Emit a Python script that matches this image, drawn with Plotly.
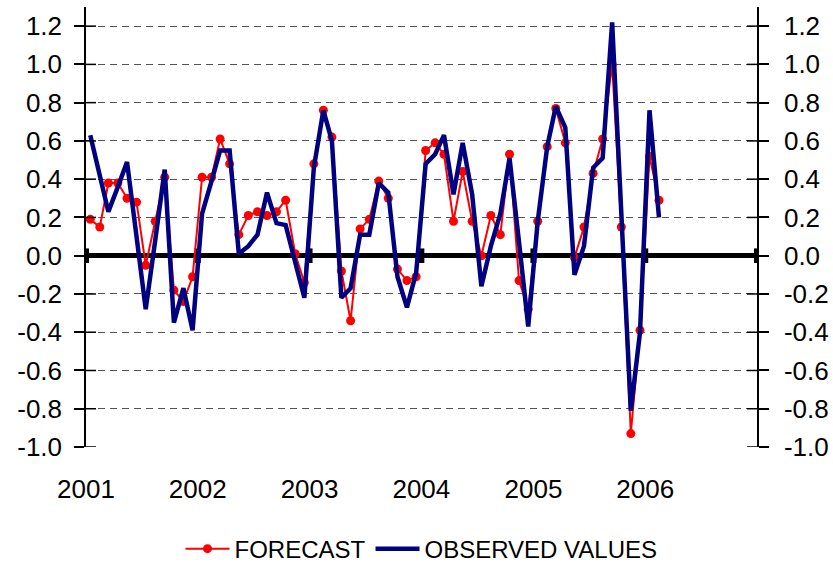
import pandas as pd
import plotly.graph_objects as go

# monthly observations, Jan 2001 - Feb 2006
months = pd.date_range("2001-01-01", periods=62, freq="MS") + pd.Timedelta(days=14)

forecast = [0.19, 0.15, 0.38, 0.38, 0.30, 0.28, -0.05, 0.18, 0.41, -0.18, -0.24, -0.11,
            0.41, 0.41, 0.61, 0.48, 0.11, 0.21, 0.23, 0.21, 0.23, 0.29, 0.01, -0.14,
            0.48, 0.76, 0.62, -0.08, -0.34, 0.14, 0.19, 0.39, 0.30, -0.07, -0.13, -0.11,
            0.55, 0.59, 0.53, 0.18, 0.44, 0.18, 0.00, 0.21, 0.11, 0.53, -0.13, -0.28,
            0.18, 0.57, 0.77, 0.59, -0.01, 0.15, 0.43, 0.61, 1.00, 0.15, -0.93, -0.39,
            0.52, 0.29]

observed = [0.63, 0.43, 0.23, 0.36, 0.49, 0.10, -0.28, 0.08, 0.45, -0.35, -0.17, -0.39,
            0.22, 0.39, 0.55, 0.55, 0.01, 0.05, 0.11, 0.33, 0.17, 0.16, -0.03, -0.22,
            0.46, 0.76, 0.60, -0.22, -0.17, 0.11, 0.11, 0.38, 0.33, -0.11, -0.27, -0.09,
            0.48, 0.53, 0.63, 0.32, 0.59, 0.32, -0.16, 0.05, 0.22, 0.51, 0.07, -0.37,
            0.18, 0.57, 0.78, 0.67, -0.10, 0.05, 0.46, 0.51, 1.22, 0.17, -0.81, -0.40,
            0.76, 0.20]

years = [2001, 2002, 2003, 2004, 2005, 2006]
year_edges = [2001, 2002, 2003, 2004, 2005, 2006, 2007]
y_ticks = [-1.0, -0.8, -0.6, -0.4, -0.2, 0.0, 0.2, 0.4, 0.6, 0.8, 1.0, 1.2]
y_labels = ["-1.0", "-0.8", "-0.6", "-0.4", "-0.2", "0.0", "0.2", "0.4", "0.6", "0.8", "1.0", "1.2"]

FONT = "Liberation Sans, Arial, sans-serif"
YR = [-1.0, 1.3]

fig = go.Figure()
fig.add_trace(go.Scatter(x=months, y=forecast, name="FORECAST", mode="lines+markers",
                         line=dict(color="#FF0000", width=2),
                         marker=dict(color="#FF0000", size=9, symbol="circle")))
fig.add_trace(go.Scatter(x=months, y=observed, name="OBSERVED VALUES", mode="lines",
                         line=dict(color="#000080", width=4.5)))
# helper trace so the right-hand axis gets drawn
fig.add_trace(go.Scatter(x=[None], y=[None], yaxis="y2", showlegend=False,
                         hoverinfo="skip", mode="lines"))

# year tick marks crossing the zero line
for yr in year_edges:
    fig.add_shape(type="line", xref="x", yref="y",
                  x0=f"{yr}-01-01", x1=f"{yr}-01-01", y0=-0.038, y1=0.038,
                  line=dict(color="black", width=6), layer="below")

# inner halves of the crossing y ticks (left and right axes)
for v in y_ticks:
    fig.add_shape(type="line", xref="paper", yref="y", xsizemode="pixel", xanchor=0,
                  x0=0, x1=10, y0=v, y1=v, line=dict(color="black", width=1.5))
    fig.add_shape(type="line", xref="paper", yref="y", xsizemode="pixel", xanchor=1,
                  x0=-10, x1=0, y0=v, y1=v, line=dict(color="black", width=1.5))

common_y = dict(range=YR, tickvals=y_ticks, ticktext=y_labels, tickcolor="black",
                tickwidth=1.5, ticklen=10, linecolor="black", linewidth=1.5,
                showline=True, automargin=False, ticks="outside",
                tickfont=dict(family=FONT, size=26, color="black"))

fig.update_layout(
    width=833, height=568,
    margin=dict(l=86, r=76, t=7, b=121, autoexpand=False),
    paper_bgcolor="white", plot_bgcolor="white",
    showlegend=True,
    legend=dict(orientation="h", x=0.5, xanchor="center", y=-0.232, yanchor="middle",
                font=dict(family=FONT, size=24, color="black"),
                itemwidth=44, tracegroupgap=0, bgcolor="rgba(0,0,0,0)"),
    xaxis=dict(type="date", range=["2001-01-01", "2007-01-01"],
               tickvals=[f"{y}-01-01" for y in years], ticktext=[str(y) for y in years],
               showgrid=False, showline=False, zeroline=False, ticks="",
               ticklabelstandoff=24, automargin=False,
               tickfont=dict(family=FONT, size=26, color="black")),
    yaxis=dict(side="left", showgrid=True, gridcolor="#555555",
               griddash="7px,5px", gridwidth=1, zeroline=True, zerolinecolor="black",
               zerolinewidth=5, ticklabelstandoff=7, **common_y),
    yaxis2=dict(side="right", overlaying="y", showgrid=False,
                zeroline=False, ticklabelstandoff=10, **common_y),
)

fig.write_html("out.html", config={"displayModeBar": False},
               post_script="document.body.style.margin='0';")
